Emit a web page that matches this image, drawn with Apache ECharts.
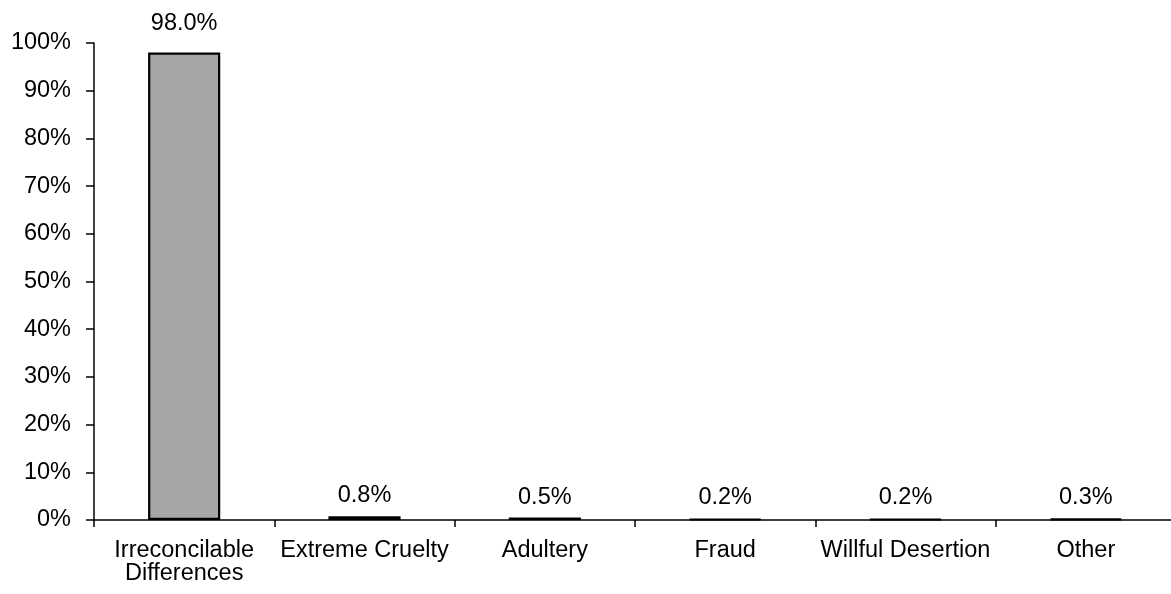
<!DOCTYPE html>
<html>
<head>
<meta charset="utf-8">
<script src="https://cdn.jsdelivr.net/npm/echarts@6/dist/echarts.min.js"></script>
<style>
html,body{margin:0;padding:0;background:#fff;}
#chart{width:1171px;height:594px;}
</style>
</head>
<body>
<div id="chart"></div>
<script>
const categories = ['Irreconcilable\nDifferences', 'Extreme Cruelty', 'Adultery', 'Fraud', 'Willful Desertion', 'Other'];
const values = [98.0, 0.8, 0.5, 0.2, 0.2, 0.3];
const yTicks = { min: 0, max: 100, interval: 10 };

const FONT = 'Liberation Sans, Arial, sans-serif';
const FS = 23.5;
const chart = echarts.init(document.getElementById('chart'), null, { renderer: 'canvas' });

const data = values.map((v, i) => ({
  value: v,
  label: { distance: i === 0 ? 17 : 8.5 }
}));

chart.setOption({
  animation: false,
  backgroundColor: '#ffffff',
  grid: { left: 94, right: -5, top: 43, bottom: 74, containLabel: false, outerBoundsMode: 'none' },
  xAxis: {
    type: 'category',
    data: categories,
    z: 5,
    axisLine: { lineStyle: { color: '#000', width: 1.5 } },
    axisTick: { show: true, length: 7, lineStyle: { color: '#000', width: 1.5 } },
    axisLabel: { color: '#000', fontFamily: FONT, fontSize: FS, margin: 19, lineHeight: 23, interval: 0 },
    splitLine: { show: false }
  },
  yAxis: {
    type: 'value',
    min: yTicks.min, max: yTicks.max, interval: yTicks.interval,
    axisLine: { show: true, lineStyle: { color: '#000', width: 1.5 } },
    axisTick: { show: true, length: 8, lineStyle: { color: '#000', width: 1.5 } },
    axisLabel: { color: '#000', fontFamily: FONT, fontSize: FS, margin: 23, formatter: '{value}%' },
    splitLine: { show: false }
  },
  series: [{
    type: 'bar',
    data: data,
    barWidth: '40%',
    itemStyle: { color: '#A6A6A6', borderColor: '#000', borderWidth: 2.2 },
    label: {
      show: true, position: 'top', color: '#000', fontFamily: FONT, fontSize: FS,
      formatter: p => p.value.toFixed(1) + '%'
    }
  }]
});
</script>
</body>
</html>
